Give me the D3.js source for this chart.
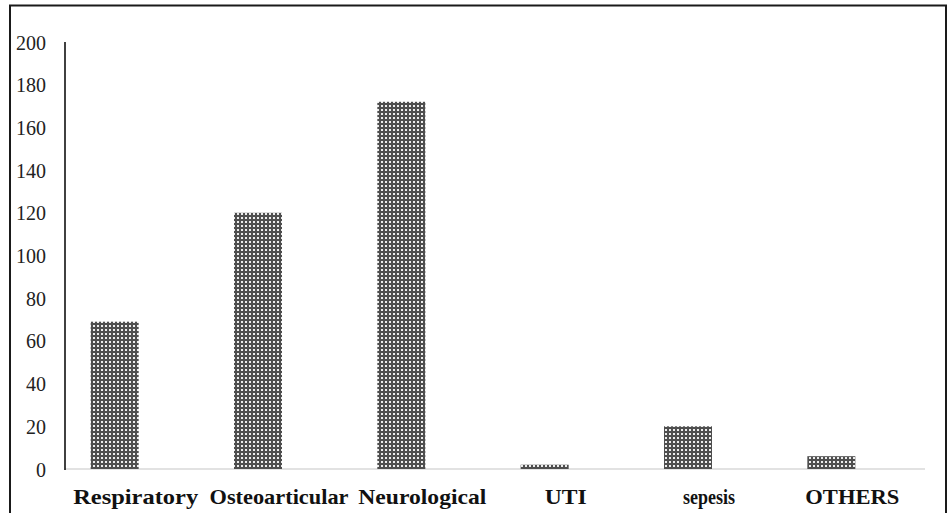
<!DOCTYPE html>
<html><head><meta charset="utf-8">
<script src="https://cdn.jsdelivr.net/npm/d3@7"></script>
<style>body{margin:0;background:#fff}svg{display:block}</style>
</head><body>
<script>
const categories = ["Respiratory","Osteoarticular","Neurological","UTI","sepesis","OTHERS"];
const values = [69,120,172,2,20,6];
const yTicks = [0,20,40,60,80,100,120,140,160,180,200];
const labelWidths = [125,139,128,42,52,94];

const W=949,H=513;
const svg=d3.select("body").append("svg").attr("width",W).attr("height",H);
const defs=svg.append("defs");
const pat=defs.append("pattern").attr("id","dots").attr("patternUnits","userSpaceOnUse")
  .attr("width",4).attr("height",4);
pat.append("rect").attr("width",4).attr("height",4).attr("fill","#4e4e4e");
pat.append("rect").attr("x",1).attr("y",1).attr("width",2).attr("height",2).attr("fill","#ececec");

// outer border
svg.append("rect").attr("x",10).attr("y",5.5).attr("width",936).attr("height",520)
  .attr("fill","none").attr("stroke","#1a1a1a").attr("stroke-width",2);

const x=d3.scaleBand().domain(categories).range([65,925]);
const y=d3.scaleLinear().domain([0,200]).range([469,42]);
const barW=48, barOff=-22;

// y tick labels
svg.append("g").selectAll("text").data(yTicks).join("text")
  .attr("x",46).attr("y",d=>y(d)+3).attr("text-anchor","end").attr("dominant-baseline","middle")
  .attr("font-family","Liberation Serif").attr("font-size",20).attr("fill","#222").text(d=>d);

// baseline
svg.append("line").attr("x1",65).attr("x2",925).attr("y1",y(0)).attr("y2",y(0))
  .attr("stroke","#d9d9d9").attr("stroke-width",1.5);
// y axis line
svg.append("line").attr("x1",65).attr("x2",65).attr("y1",y(200)).attr("y2",y(0)+1)
  .attr("stroke","#111").attr("stroke-width",1.6);

// bars
svg.append("g").selectAll("rect").data(categories).join("rect")
  .attr("x",d=>x(d)+x.bandwidth()/2+barOff-barW/2)
  .attr("y",(d,i)=>y(values[i])).attr("width",barW)
  .attr("height",(d,i)=>y(0)-y(values[i])).attr("fill","url(#dots)");

// x labels
svg.append("g").selectAll("text").data(categories).join("text")
  .attr("x",d=>x(d)+x.bandwidth()/2-1).attr("y",504).attr("text-anchor","middle")
  .attr("font-family","Liberation Serif").attr("font-weight","bold").attr("font-size",22)
  .attr("fill","#111")
  .attr("textLength",(d,i)=>labelWidths[i]).attr("lengthAdjust","spacingAndGlyphs")
  .text(d=>d);
</script>
</body></html>
